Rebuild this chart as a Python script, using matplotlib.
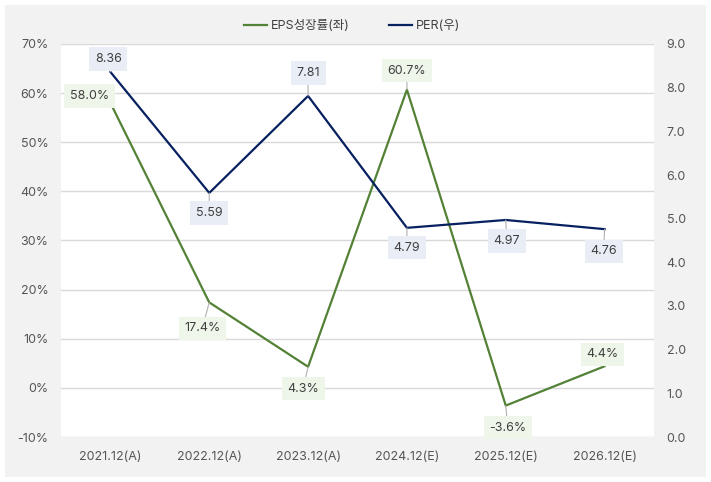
import matplotlib
matplotlib.use("Agg")
import matplotlib.pyplot as plt
from matplotlib.patches import Rectangle

plt.rcParams['font.family'] = ['Inter', 'Noto Sans CJK KR', 'DejaVu Sans']

# data
categories = ["2021.12(A)", "2022.12(A)", "2023.12(A)", "2024.12(E)", "2025.12(E)", "2026.12(E)"]
eps_growth = [58.0, 17.4, 4.3, 60.7, -3.6, 4.4]
per = [8.36, 5.59, 7.81, 4.79, 4.97, 4.76]
eps_name = "EPS성장률(좌)"
per_name = "PER(우)"

# label offsets in pixels (x, y down)
eps_off = [(-21, -7), (-7, 26), (-5, 22), (0, -19), (2, 22), (-2, -12)]
per_off = [(-2, -13), (0, 20), (0, -23), (0, 20), (1, 21), (-1, 22)]

GREEN = "#538135"
NAVY = "#062060"
TXT = "#404040"
TICK = "#555555"

W, H = 711, 482
fig = plt.figure(figsize=(W / 100, H / 100), dpi=100)
fig.patch.set_facecolor("white")
fig.patches.append(Rectangle((5 / W, 5 / H), 701 / W, 472 / H, transform=fig.transFigure,
                             facecolor="#f2f2f2", edgecolor="none", zorder=-10))

ax = fig.add_axes([61 / W, (H - 437) / H, 593 / W, 393 / H])
ax.set_facecolor("white")
ax2 = ax.twinx()

x = list(range(len(categories)))

ax.set_ylim(-10, 70)
ax.set_yticks(range(-10, 71, 10))
ax.set_yticklabels([f"{v}%" for v in range(-10, 71, 10)])
ax.set_xlim(-0.5, len(categories) - 0.5)
ax.set_xticks(x)
ax.set_xticklabels(categories)
ax.grid(axis="y", color="#d9d9d9", lw=1)
ax.set_axisbelow(True)

ax2.set_ylim(0, 9)
ax2.set_yticks([i for i in range(10)])
ax2.set_yticklabels([f"{i:.1f}" for i in range(10)])

for a in (ax, ax2):
    for s in a.spines.values():
        s.set_visible(False)
    a.tick_params(length=0, labelsize=9, colors=TICK)
ax.tick_params(axis="x", pad=10)
ax.tick_params(axis="y", pad=9)
ax2.tick_params(axis="y", pad=9)

l1, = ax.plot(x, eps_growth, color=GREEN, lw=1.6, zorder=3, label=eps_name)
l2, = ax2.plot(x, per, color=NAVY, lw=1.6, zorder=3, label=per_name)

px = 0.72  # pixels -> points
for i, v in enumerate(eps_growth):
    dx, dy = eps_off[i]
    ax.annotate(f"{v:.1f}%", (i, v), xytext=(dx * px, -dy * px), textcoords="offset points",
                ha="center", va="center", fontsize=9, color=TXT, zorder=5,
                bbox=dict(boxstyle="square,pad=0.45", fc="#eef5e9", ec="none"),
                arrowprops=dict(arrowstyle="-", color="#b0b0b0", lw=0.8, shrinkA=0, shrinkB=0))
for i, v in enumerate(per):
    dx, dy = per_off[i]
    ax2.annotate(f"{v:.2f}", (i, v), xytext=(dx * px, -dy * px), textcoords="offset points",
                 ha="center", va="center", fontsize=9, color=TXT, zorder=5,
                 bbox=dict(boxstyle="square,pad=0.45", fc="#e9edf6", ec="none"),
                 arrowprops=dict(arrowstyle="-", color="#b0b0b0", lw=0.8, shrinkA=0, shrinkB=0))

fig.legend(handles=[l1, l2], loc="center", bbox_to_anchor=(352 / W, 1 - 26 / H), ncol=2,
           frameon=False, fontsize=9, handlelength=1.8, handletextpad=0.3, columnspacing=3.2,
           labelcolor=TXT)

fig.savefig("out.png", dpi=100)
